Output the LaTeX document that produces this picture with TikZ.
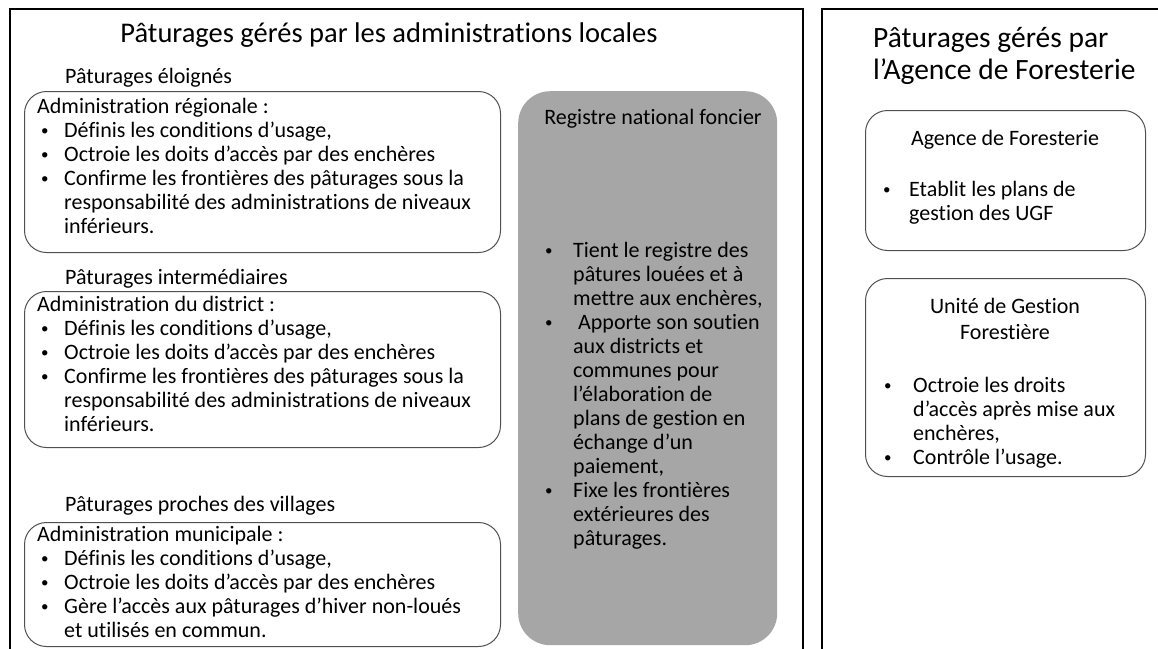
\documentclass[tikz,border=0pt]{standalone}
\usepackage{fontspec}
\setmainfont{Carlito}[Ligatures=NoCommon]
\definecolor{gfill}{HTML}{A6A6A6}
\definecolor{edge}{HTML}{505050}
\newcommand\dotb{{\fontsize{15}{15}\selectfont\raisebox{2pt}{•}}}
\newcommand\bi[2]{\hspace*{#1}\makebox[#2][l]{\dotb}}
\newcommand\bc[1]{\hspace*{#1}}
\begin{document}
\begin{tikzpicture}[x=1pt,y=-1pt,
 frameline/.style={line width=2.8pt,black},
 wbox/.style={draw=edge,line width=1pt,rounded corners=22pt,inner sep=0,anchor=north west},
 gbox/.style={fill=gfill,draw=none,rounded corners=32pt,inner sep=0,anchor=north west},
 body/.style={font=\fontsize{22}{24}\selectfont,align=left,inner sep=0,anchor=north west},
 hdr/.style={font=\fontsize{22}{24}\selectfont,inner sep=0,anchor=base},
 lbl/.style={font=\fontsize{22}{24}\selectfont,inner sep=0,anchor=base west},
 ttl/.style={font=\fontsize{28.5}{32}\selectfont,inner sep=0}]
\useasboundingbox (0,0) rectangle (1158,648);
\clip (0,0) rectangle (1158,648);
\fill[white] (0,0) rectangle (1158,648);
% frames
\draw[frameline] (10,670) -- (10,9) -- (803,9) -- (803,670);
\draw[frameline] (822,670) -- (822,9) -- (1180,9);
% left title
\node[ttl,anchor=base] (t1) at (389,42) {Pâturages gérés par les administrations locales};
% box 1
\node[lbl] (s1) at (65,83) {Pâturages éloignés};
\node[wbox,minimum width=476pt,minimum height=161pt] (b1) at (24,91) {};
\node[body] (b1t) at (37,96.2) {\strut Administration régionale :\\
\bi{4pt}{23pt}Définis les conditions d’usage,\\
\bi{4pt}{23pt}Octroie les doits d’accès par des enchères\\
\bi{4pt}{23pt}Confirme les frontières des pâturages sous la\\
\bc{27pt}responsabilité des administrations de niveaux\\
\bc{27pt}inférieurs.};
% box 2
\node[lbl] (s2) at (65,284) {Pâturages intermédiaires};
\node[wbox,minimum width=476pt,minimum height=156pt] (b2) at (24,291) {};
\node[body] (b2t) at (37,294.2) {\strut Administration du district :\\
\bi{4pt}{23pt}Définis les conditions d’usage,\\
\bi{4pt}{23pt}Octroie les doits d’accès par des enchères\\
\bi{4pt}{23pt}Confirme les frontières des pâturages sous la\\
\bc{27pt}responsabilité des administrations de niveaux\\
\bc{27pt}inférieurs.};
% box 3
\node[lbl] (s3) at (65,511) {Pâturages proches des villages};
\node[wbox,minimum width=476pt,minimum height=124pt] (b3) at (24,522) {};
\node[body] (b3t) at (37,524.2) {\strut Administration municipale :\\
\bi{4pt}{23pt}Définis les conditions d’usage,\\
\bi{4pt}{23pt}Octroie les doits d’accès par des enchères\\
\bi{4pt}{23pt}Gère l’accès aux pâturages d’hiver non-loués\\
\bc{27pt}et utilisés en commun.};
% grey box
\node[gbox,minimum width=259pt,minimum height=554pt] (g) at (518,91) {};
\node[hdr] (gh) at (653,124) {Registre national foncier};
\node[body] (gt) at (540,240.2) {\strut\bi{5pt}{28pt}Tient le registre des\\
\bc{33pt}pâtures louées et à\\
\bc{33pt}mettre aux enchères,\\
\bi{5pt}{28pt} Apporte son soutien\\
\bc{33pt}aux districts et\\
\bc{33pt}communes pour\\
\bc{33pt}l’élaboration de\\
\bc{33pt}plans de gestion en\\
\bc{33pt}échange d’un\\
\bc{33pt}paiement,\\
\bi{5pt}{28pt}Fixe les frontières\\
\bc{33pt}extérieures des\\
\bc{33pt}pâturages.};
% right title
\node[ttl,font=\fontsize{29.5}{32}\selectfont,align=left,anchor=north west] (t2) at (873,24.6) {\strut Pâturages gérés par\\l’Agence de Foresterie};
% box A
\node[wbox,minimum width=280pt,minimum height=140pt] (ba) at (865,110) {};
\node[hdr] (bah) at (1005,145) {Agence de Foresterie};
\node[body] (bat) at (883,179.2) {\strut\bi{0pt}{26pt}Etablit les plans de\\
\bc{26pt}gestion des UGF};
% box B
\node[wbox,minimum width=280pt,minimum height=198pt] (bb) at (865,278) {};
\node[body,font=\fontsize{22}{26}\selectfont,align=center,anchor=north] (bbh) at (1005,294.8) {\strut Unité de Gestion\\Forestière};
\node[body] (bbt) at (884,375.2) {\strut\bi{0pt}{29pt}Octroie les droits\\
\bc{29pt}d’accès après mise aux\\
\bc{29pt}enchères,\\
\bi{0pt}{29pt}Contrôle l’usage.};
\end{tikzpicture}
\end{document}
